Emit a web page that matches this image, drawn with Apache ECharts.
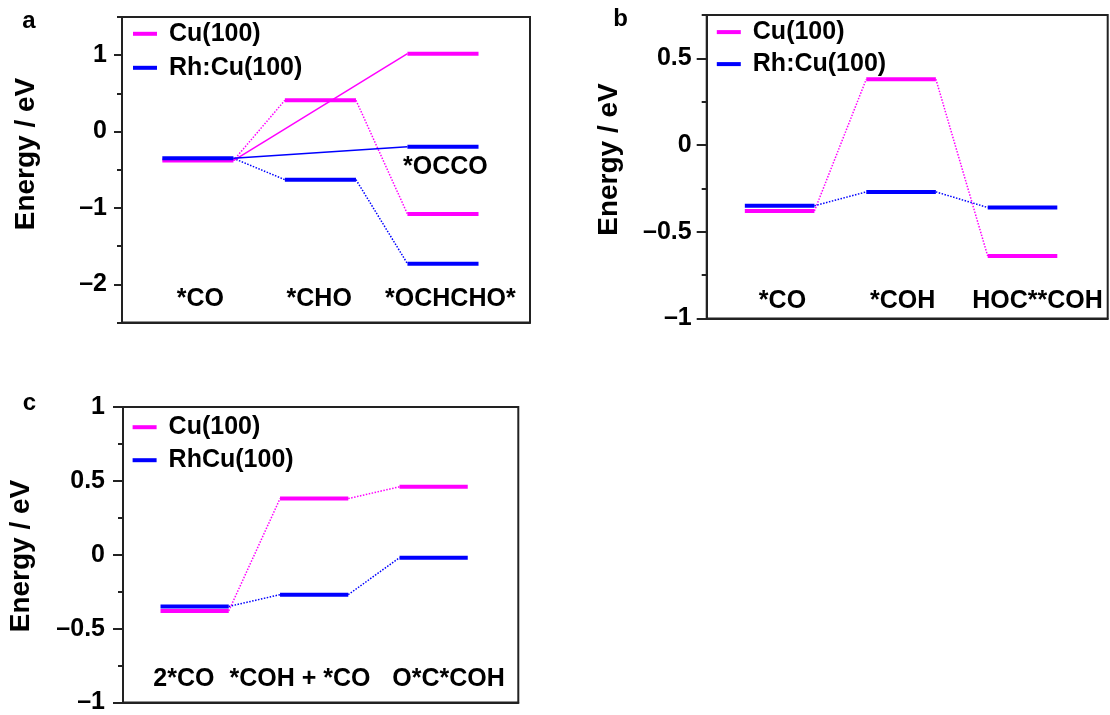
<!DOCTYPE html>
<html>
<head>
<meta charset="utf-8">
<script src="https://cdn.jsdelivr.net/npm/echarts@6/dist/echarts.min.js"></script>
<style>
  html, body { margin: 0; padding: 0; background: #fff; }
  #chart { width: 1110px; height: 715px; }
</style>
</head>
<body>
<div id="chart"></div>
<script>
// panel a: *CO -> *CHO -> *OCHCHO*, and the direct *CO -> *OCCO coupling
var stepsA = ['*CO', '*CHO', '*OCHCHO*'];
var cuA = [-0.38, 0.41, -1.08];
var rhA = [-0.35, -0.63, -1.73];
var occoNameA = '*OCCO';
var cuOccoA = 1.02;
var rhOccoA = -0.20;
var majorTicksA = [-2, -1, 0, 1];
var minorTicksA = [-2.5, -1.5, -0.5, 0.5, 1.5];

// panel b
var stepsB = ['*CO', '*COH', 'HOC**COH'];
var cuB = [-0.38, 0.38, -0.64];
var rhB = [-0.35, -0.27, -0.36];
var majorTicksB = [-1, -0.5, 0, 0.5];
var minorTicksB = [-0.75, -0.25, 0.25, 0.75];

// panel c
var stepsC = ['2*CO', '*COH + *CO', 'O*C*COH'];
var cuC = [-0.38, 0.38, 0.46];
var rhC = [-0.35, -0.27, -0.02];
var majorTicksC = [-1, -0.5, 0, 0.5, 1];
var minorTicksC = [-0.75, -0.25, 0.25, 0.75];

var CU = '#ff00ff', RH = '#0000ff', INK = '#222';
var FONT = '"Liberation Sans", Arial, sans-serif';

var panels = [
  { grid: { left: 122, top: 17, width: 408, height: 305.5 },
    xMin: -0.329, xMax: 3.0, w: 0.58, yMin: -2.5, yMax: 1.5,
    major: majorTicksA, minor: minorTicksA, tick: 8, margin: 15,
    steps: stepsA, cu: cuA, rh: rhA, names: ['Cu(100)', 'Rh:Cu(100)'],
    labelX: [0.31, 1.28, 2.35], labelY: -2.2,
    legend: { left: 133, top: 21.3, gap: 9 },
    title: [26, 154], letter: ['a', 29, 21] },
  { grid: { left: 706.7, top: 15, width: 401, height: 303.5 },
    xMin: -0.314, xMax: 2.988, w: 0.573, yMin: -1, yMax: 0.75,
    major: majorTicksB, minor: minorTicksB, tick: 10, margin: 15,
    steps: stepsB, cu: cuB, rh: rhB, names: ['Cu(100)', 'Rh:Cu(100)'],
    labelX: [0.31, 1.30, 2.41], labelY: -0.9,
    legend: { left: 716.8, top: 19.6, gap: 7 },
    title: [609.5, 159.5], letter: ['b', 620.5, 19.8] },
  { grid: { left: 123, top: 407, width: 395.3, height: 297 },
    xMin: -0.314, xMax: 2.994, w: 0.571, yMin: -1, yMax: 1,
    major: majorTicksC, minor: minorTicksC, tick: 10, margin: 18,
    steps: stepsC, cu: cuC, rh: rhC, names: ['Cu(100)', 'RhCu(100)'],
    labelX: [0.195, 1.167, 2.41], labelY: -0.84,
    legend: { left: 132.6, top: 414.7, gap: 8 },
    title: [21, 556], letter: ['c', 29.3, 403.3] }
];

function fmt(v) {
  return (v < 0 ? '\u2013' : '') + Math.abs(v);
}

var grids = [], xAxes = [], yAxes = [], series = [], legends = [], graphics = [];

function level(k, name, color, x, v, z) {
  series.push({
    type: 'line', name: name, xAxisIndex: k, yAxisIndex: 2 * k,
    data: [[x, v], [x + panels[k].w, v]],
    symbol: 'none', silent: true, z: z,
    lineStyle: { color: color, width: 4, cap: 'butt' },
    itemStyle: { color: color }
  });
}

function link(k, color, a, b, dotted) {
  series.push({
    type: 'line', name: 'link', xAxisIndex: k, yAxisIndex: 2 * k,
    data: [a, b], symbol: 'none', silent: true, z: 1,
    lineStyle: { color: color, width: 1.5, type: dotted ? 'dotted' : 'solid' }
  });
}

panels.forEach(function (p, k) {
  grids.push({
    left: p.grid.left, top: p.grid.top, width: p.grid.width, height: p.grid.height,
    show: true, borderColor: INK, borderWidth: 2
  });
  xAxes.push({
    type: 'value', gridIndex: k, min: p.xMin, max: p.xMax,
    axisLine: { show: true, onZero: false, lineStyle: { color: INK, width: 2 } },
    axisTick: { show: false }, axisLabel: { show: false }, splitLine: { show: false }
  });
  yAxes.push({
    type: 'value', gridIndex: k, min: p.yMin, max: p.yMax, position: 'left',
    axisLine: { show: true, onZero: false, lineStyle: { color: INK, width: 2 } },
    axisTick: { show: true, inside: false, length: p.tick, customValues: p.major,
                lineStyle: { color: INK, width: 2 } },
    axisLabel: { customValues: p.major, formatter: fmt, margin: p.margin,
                 fontSize: 25, fontWeight: 'bold', color: '#000', fontFamily: FONT },
    splitLine: { show: false }
  });
  yAxes.push({
    type: 'value', gridIndex: k, min: p.yMin, max: p.yMax, position: 'left', offset: 0,
    axisLine: { show: false, onZero: false },
    axisTick: { show: true, inside: false, length: 5, customValues: p.minor,
                lineStyle: { color: INK, width: 2 } },
    axisLabel: { show: false }, splitLine: { show: false }
  });

  // connectors along the main path
  for (var i = 0; i < p.steps.length - 1; i++) {
    link(k, CU, [i + p.w, p.cu[i]], [i + 1, p.cu[i + 1]], true);
    link(k, RH, [i + p.w, p.rh[i]], [i + 1, p.rh[i + 1]], true);
  }
  if (k === 0) {
    link(k, CU, [p.w, p.cu[0]], [2, cuOccoA], false);
    link(k, RH, [p.w, p.rh[0]], [2, rhOccoA], false);
  }

  // energy levels, Rh drawn over Cu
  p.steps.forEach(function (s, i) { level(k, p.names[0], CU, i, p.cu[i], 3); });
  p.steps.forEach(function (s, i) { level(k, p.names[1], RH, i, p.rh[i], 4); });
  if (k === 0) {
    level(k, p.names[0], CU, 2, cuOccoA, 3);
    level(k, p.names[1], RH, 2, rhOccoA, 4);
  }

  // step names
  var lab = p.steps.map(function (s, i) { return { name: s, value: [p.labelX[i], p.labelY] }; });
  if (k === 0) lab.push({ name: occoNameA, value: [2.31, -0.47] });
  series.push({
    type: 'scatter', name: 'labels', xAxisIndex: k, yAxisIndex: 2 * k,
    data: lab, symbolSize: 1, silent: true, z: 5,
    itemStyle: { color: 'transparent' },
    label: { show: true, position: 'inside', formatter: '{b}', color: '#000',
             textBorderWidth: 0, opacity: 1,
             fontSize: 25, fontWeight: 'bold', fontFamily: FONT }
  });

  legends.push({
    data: p.names, orient: 'vertical', left: p.legend.left, top: p.legend.top,
    padding: 0, itemGap: p.legend.gap, itemWidth: 24, itemHeight: 4, icon: 'rect',
    selectedMode: false,
    textStyle: { fontSize: 25, fontWeight: 'bold', color: '#000', fontFamily: FONT,
                 lineHeight: 24, padding: [0, 0, 0, 7] }
  });

  graphics.push({
    type: 'text', x: p.title[0], y: p.title[1], rotation: Math.PI / 2,
    style: { text: 'Energy / eV', font: 'bold 28px ' + FONT, fill: '#000',
             textAlign: 'center', textVerticalAlign: 'middle',
             align: 'center', verticalAlign: 'middle' }
  });
  graphics.push({
    type: 'text', x: p.letter[1], y: p.letter[2],
    style: { text: p.letter[0], font: 'bold 24px ' + FONT, fill: '#000',
             textAlign: 'center', textVerticalAlign: 'middle',
             align: 'center', verticalAlign: 'middle' }
  });
});

var chart = echarts.init(document.getElementById('chart'));
chart.setOption({
  animation: false,
  backgroundColor: '#fff',
  grid: grids,
  xAxis: xAxes,
  yAxis: yAxes,
  legend: legends,
  graphic: graphics,
  series: series
});
</script>
</body>
</html>
